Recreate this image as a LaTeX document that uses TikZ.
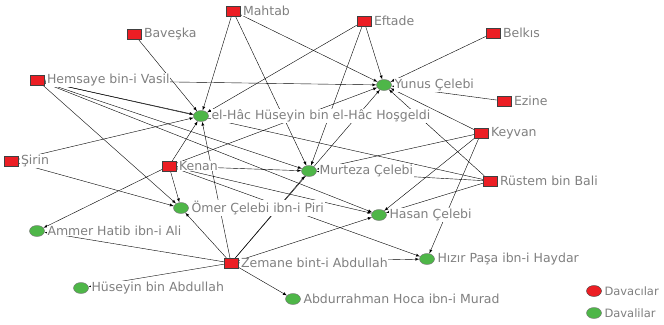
\documentclass[tikz,border=0pt]{standalone}
\usepackage{fontspec}
\setmainfont{DejaVu Sans}
\usetikzlibrary{positioning,backgrounds,shapes}

\definecolor{kirmizi}{RGB}{236,30,36}
\definecolor{yesil}{RGB}{78,182,72}

\begin{document}
\begin{tikzpicture}[>=latex, x=1pt, y=-1pt]

    %
    % Styles for plaintiffs, defendants and suits
    %
    \tikzstyle{davaci} = [draw=black!75, rectangle, fill=kirmizi, minimum width=14pt,
                          minimum height=10pt, inner sep=0pt];
    \tikzstyle{davali} = [draw=black!55, ellipse, fill=yesil, minimum width=15pt,
                          minimum height=11pt, inner sep=0pt];
    \tikzstyle{isim} = [text=black!50, fill=white, inner sep=0.6pt, label distance=2pt,
                        font={\fontsize{12.5}{14}\selectfont}];
    \tikzstyle{lejant} = [isim, font={\fontsize{11.5}{13}\selectfont}];
    \tikzstyle{dava} = [black, thin, ->];
    \tikzstyle{bag} = [black, thin];

    \useasboundingbox (0,0) rectangle (664,324);

    %
    % Davacilar
    %
    \node[davaci, name=mahtab, label={[isim]right:Mahtab}] at (233,11) {};
    \node[davaci, name=baveska, label={[isim]right:Baveşka}] at (134,34) {};
    \node[davaci, name=eftade, label={[isim]right:Eftade}] at (364,21) {};
    \node[davaci, name=belkis, label={[isim]right:Belkıs}] at (493,33) {};
    \node[davaci, name=hemsaye, label={[isim]right:Hemsaye bin-i Vasil}] at (37,80) {};
    \node[davaci, name=ezine, label={[isim]right:Ezine}] at (504,101) {};
    \node[davaci, name=keyvan, label={[isim]right:Keyvan}] at (481,133) {};
    \node[davaci, name=sirin, label={[isim]right:Şirin}] at (11,161) {};
    \node[davaci, name=kenan, label={[isim]right:Kenan}] at (169,166) {};
    \node[davaci, name=rustem, label={[isim]right:Rüstem bin Bali}] at (490,181) {};
    \node[davaci, name=zemane, label={[isim]right:Zemane bint-i Abdullah}] at (231,263) {};

    %
    % Davalilar
    %
    \node[davali, name=yunus, label={[isim]right:Yunus Çelebi}] at (384,85) {};
    \node[davali, name=elhac, label={[isim]right:el-Hâc Hüseyin bin el-Hâc Hoşgeldi}] at (201,116) {};
    \node[davali, name=murteza, label={[isim]right:Murteza Çelebi}] at (309,171) {};
    \node[davali, name=omer, label={[isim]right:Ömer Çelebi ibn-i Piri}] at (181,208) {};
    \node[davali, name=hasan, label={[isim]right:Hasan Çelebi}] at (379,215) {};
    \node[davali, name=ammer, label={[isim]right:Ammer Hatib ibn-i Ali}] at (37,231) {};
    \node[davali, name=hizir, label={[isim]right:Hızır Paşa ibn-i Haydar}] at (427,259) {};
    \node[davali, name=huseyin, label={[isim]right:Hüseyin bin Abdullah}] at (81,288) {};
    \node[davali, name=abdurrahman, label={[isim]right:Abdurrahman Hoca ibn-i Murad}] at (293,299) {};

    %
    % Legend
    %
    \node[davaci, name=lejantDavaci, ellipse, minimum width=15pt, minimum height=11pt,
          label={[lejant]right:Davacılar}] at (594,291) {};
    \node[davali, name=lejantDavali, label={[lejant]right:Davalilar}] at (594,313) {};

    %
    % Suits, behind the nodes
    %
    \begin{scope}[on background layer]
    \draw (mahtab) edge[dava] (elhac) edge[dava] (murteza) edge[dava] (yunus);
    \draw (baveska) edge[dava] (elhac);
    \draw (eftade) edge[dava] (yunus) edge[dava] (elhac) edge[dava] (murteza);
    \draw (belkis) edge[dava] (yunus);
    \draw (ezine) edge[dava] (yunus);
    \draw (hemsaye) edge[dava] (elhac) edge[dava] (yunus) edge[dava] (murteza)
      edge[dava] (hasan) edge[dava] (omer) edge[bag] (rustem);
    \draw (sirin) edge[dava] (elhac) edge[dava] (omer);
    \draw (kenan) edge[dava] (elhac) edge[dava] (omer) edge[dava] (murteza)
      edge[dava] (yunus) edge[dava] (ammer) edge[dava] (hasan) edge[dava] (hizir);
    \draw (keyvan) edge[dava] (yunus) edge[dava] (murteza) edge[dava] (hasan)
      edge[dava] (hizir);
    \draw (rustem) edge[dava] (yunus) edge[dava] (murteza) edge[dava] (hasan);
    \draw (zemane) edge[dava] (omer) edge[dava] (murteza) edge[dava] (yunus)
      edge[dava] (elhac) edge[dava] (ammer) edge[dava] (huseyin)
      edge[dava] (abdurrahman) edge[dava] (hizir) edge[dava] (hasan);
    \end{scope}
\end{tikzpicture}
\end{document}
